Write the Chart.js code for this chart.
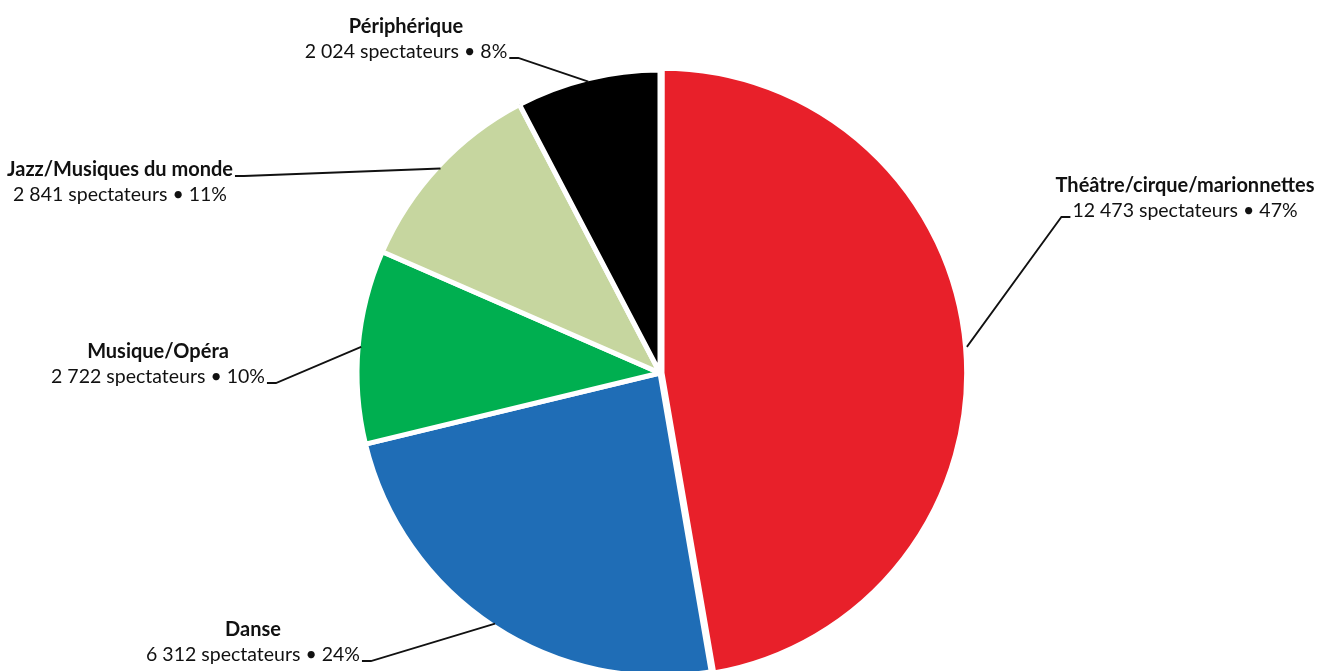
<!DOCTYPE html>
<html lang="fr">
<head>
<meta charset="utf-8">
<title>Spectateurs par discipline</title>
<script src="https://cdn.jsdelivr.net/npm/chart.js@4.4.1/dist/chart.umd.min.js"></script>
<style>
  html, body { margin: 0; padding: 0; background: #fff; }
  canvas { display: block; }
</style>
</head>
<body>
<canvas id="graficoPizza" width="1322" height="671"></canvas>
<script>
// données
const categories = ['Théâtre/cirque/marionnettes', 'Danse', 'Musique/Opéra', 'Jazz/Musiques du monde', 'Périphérique'];
const spectateurs = [12473, 6312, 2722, 2841, 2024];
const couleurs = ['#E8202A', '#1F6DB6', '#00AF50', '#C6D69F', '#000000'];
const decalage = [8, 0, 0, 0, 0]; // la part théâtre est détachée

// emplacement des étiquettes (centre de la 1re ligne) et côté d'où part le trait
const etiquettes = [
    { x: 1185, y: 186, ligne: 1, cote: 'gauche' },
    { x: 253, y: 630, ligne: 1, cote: 'droite' },
    { x: 158, y: 352, ligne: 1, cote: 'droite' },
    { x: 120, y: 170, ligne: 0, cote: 'droite' },
    { x: 406, y: 27, ligne: 1, cote: 'droite' }
];

const POLICE = 'Lato, "Open Sans", sans-serif';
const INTERLIGNE = 25;

function formatNombre(n) {
    return String(n).replace(/\B(?=(\d{3})+(?!\d))/g, ' ');
}

const total = spectateurs.reduce((a, b) => a + b, 0);

// étiquettes + traits de rappel
const rotulos = {
    id: 'rotulos',
    afterDatasetsDraw(chart) {
        const ctx = chart.ctx;
        const arcs = chart.getDatasetMeta(0).data;
        ctx.save();
        arcs.forEach((arc, i) => {
            const e = etiquettes[i];
            const titre = categories[i];
            const detail = formatNombre(spectateurs[i]) + ' spectateurs \u2022 ' + Math.round(spectateurs[i] / total * 100) + '%';

            ctx.fillStyle = '#111111';
            ctx.textAlign = 'center';
            ctx.textBaseline = 'middle';
            ctx.font = 'bold 20px ' + POLICE;
            ctx.fillText(titre, e.x, e.y);
            const wTitre = ctx.measureText(titre).width;
            ctx.font = '19.5px ' + POLICE;
            ctx.fillText(detail, e.x, e.y + INTERLIGNE);
            const wDetail = ctx.measureText(detail).width;

            // point d'arrivée sur le bord de la part, à mi-angle
            const p = arc.getProps(['x', 'y', 'startAngle', 'endAngle', 'outerRadius'], true);
            const a = (p.startAngle + p.endAngle) / 2;
            const r = p.outerRadius + (arc.options.offset || 0) - 3;
            const px = p.x + Math.cos(a) * r;
            const py = p.y + Math.sin(a) * r;

            const w = e.ligne === 0 ? wTitre : wDetail;
            const ly = e.y + e.ligne * INTERLIGNE + 6;
            let sx, tx;
            if (e.cote === 'droite') {
                sx = e.x + w / 2 + 2;
                tx = sx + 9;
            } else {
                sx = e.x - w / 2 - 2;
                tx = sx - 9;
            }
            ctx.beginPath();
            ctx.moveTo(sx, ly);
            ctx.lineTo(tx, ly);
            ctx.lineTo(px, py);
            ctx.strokeStyle = '#111';
            ctx.lineWidth = 1.8;
            ctx.stroke();
        });
        ctx.restore();
    }
};

const ctx = document.getElementById('graficoPizza');

const chart = new Chart(ctx, {
    type: 'pie',
    data: {
        labels: categories,
        datasets: [{
            data: spectateurs,
            backgroundColor: couleurs,
            borderColor: '#ffffff',
            borderWidth: 5,
            offset: decalage,
            radius: 303
        }]
    },
    options: {
        responsive: false,
        animation: false,
        layout: {
            padding: { top: 75, bottom: 0, left: 0, right: 2 }
        },
        plugins: {
            legend: { display: false },
            tooltip: { enabled: false }
        }
    },
    plugins: [rotulos]
});
</script>
</body>
</html>
